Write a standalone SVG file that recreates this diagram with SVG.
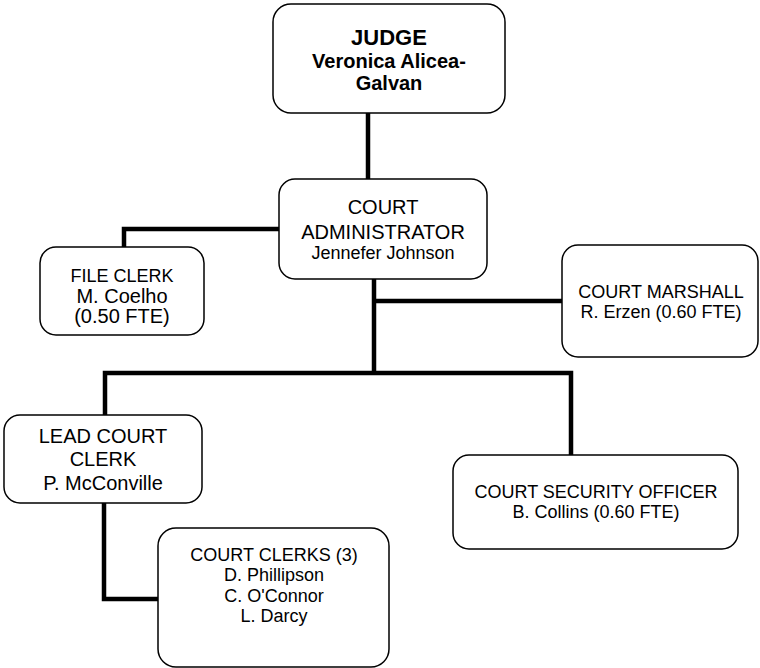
<svg xmlns="http://www.w3.org/2000/svg" width="760" height="668" viewBox="0 0 760 668">
<style>
.box{fill:#fff;stroke:#000;stroke-width:1.5}
.t{font-family:"Liberation Sans",Arial,sans-serif;font-size:18px;text-anchor:middle;fill:#000}
.b{font-weight:bold;font-size:20px}
.l{font-size:20px}
.c{fill:none;stroke:#000;stroke-width:4.5;stroke-linecap:butt;stroke-linejoin:miter}
</style>
<rect width="760" height="668" fill="#fff"/>
<g id="connectors">
<path class="c" d="M368,113 V179"/>
<path class="c" d="M279,229 H124 V247"/>
<path class="c" d="M374,279 V373"/>
<path class="c" d="M374,301 H562"/>
<path class="c" d="M105,415 V373 H571 V468"/>
<path class="c" d="M104,503 V599 H158"/>
</g>
<g id="judge">
<rect class="box" x="273" y="4" width="232" height="109" rx="18"/>
<text class="t b" x="389" y="45" style="font-size:22px">JUDGE</text>
<text class="t b" x="389" y="68">Veronica Alicea-</text>
<text class="t b" x="389" y="90">Galvan</text>
</g>
<g id="admin">
<rect class="box" x="279" y="179" width="208" height="100" rx="16"/>
<text class="t l" x="383" y="214">COURT</text>
<text class="t l" x="383" y="239">ADMINISTRATOR</text>
<text class="t" x="383" y="259">Jennefer Johnson</text>
</g>
<g id="fileclerk">
<rect class="box" x="40" y="247" width="164" height="88" rx="16"/>
<text class="t" x="122" y="282">FILE CLERK</text>
<text class="t l" x="122" y="303">M. Coelho</text>
<text class="t l" x="122" y="323">(0.50 FTE)</text>
</g>
<g id="marshall">
<rect class="box" x="562" y="245" width="196" height="112" rx="16"/>
<text class="t" x="661" y="298">COURT MARSHALL</text>
<text class="t" x="661" y="318">R. Erzen (0.60 FTE)</text>
</g>
<g id="lead">
<rect class="box" x="4" y="415" width="198" height="88" rx="16"/>
<text class="t l" x="103" y="443">LEAD COURT</text>
<text class="t l" x="103" y="466">CLERK</text>
<text class="t l" x="103" y="490">P. McConville</text>
</g>
<g id="security">
<rect class="box" x="453" y="455" width="285" height="94" rx="16"/>
<text class="t" x="596" y="498">COURT SECURITY OFFICER</text>
<text class="t" x="596" y="518">B. Collins (0.60 FTE)</text>
</g>
<g id="clerks">
<rect class="box" x="158" y="528" width="231" height="139" rx="18"/>
<text class="t" x="274" y="561">COURT CLERKS (3)</text>
<text class="t" x="274" y="581">D. Phillipson</text>
<text class="t" x="274" y="602">C. O'Connor</text>
<text class="t" x="274" y="622">L. Darcy</text>
</g>
</svg>
